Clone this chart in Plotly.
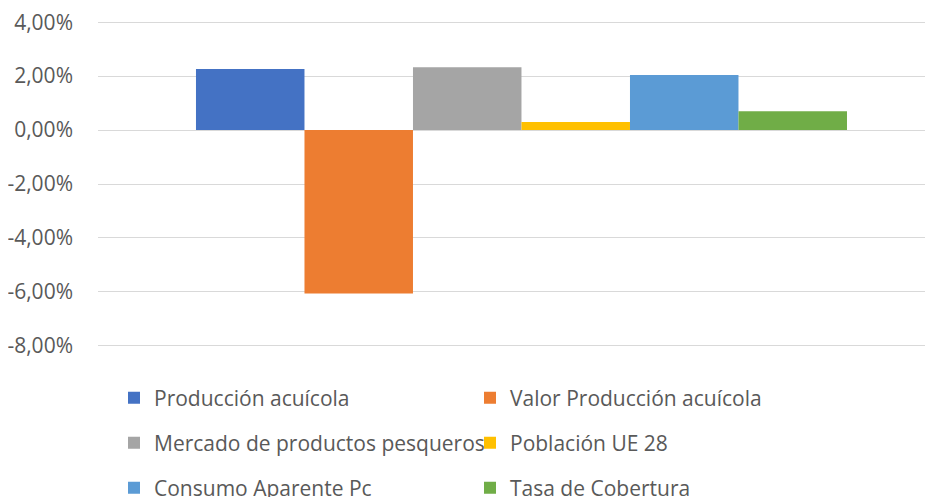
import plotly.graph_objects as go

series = ["Producción acuícola", "Valor Producción acuícola",
          "Mercado de productos pesqueros", "Población UE 28",
          "Consumo Aparente Pc", "Tasa de Cobertura"]
values = [0.0226, -0.0606, 0.0233, 0.0030, 0.0204, 0.0070]
colors = ["#4472C4", "#ED7D31", "#A5A5A5", "#FFC000", "#5B9BD5", "#70AD47"]
tick_vals = [0.04, 0.02, 0.0, -0.02, -0.04, -0.06, -0.08]
tick_text = ["4,00%", "2,00%", "0,00%", "-2,00%", "-4,00%", "-6,00%", "-8,00%"]
legend_ids = ["legend", "legend", "legend2", "legend2", "legend3", "legend3"]

# page body has a default 8px margin, so the figure is 8px smaller each way
W, H = 925, 489

fig = go.Figure()
for name, v, c, lg in zip(series, values, colors, legend_ids):
    fig.add_trace(go.Bar(x=[0], y=[v], name=name, marker_color=c,
                         marker_line_width=0, legend=lg))

FONT = "Open Sans"
legend_common = dict(orientation="h", xanchor="left", yanchor="middle",
                     xref="container", yref="container",
                     font=dict(family=FONT, size=21, color="#595959"),
                     entrywidth=311, entrywidthmode="pixels",
                     bgcolor="rgba(0,0,0,0)", traceorder="normal")

fig.update_layout(
    width=W, height=H,
    margin=dict(l=90, r=0, t=12, b=149, autoexpand=False),
    paper_bgcolor="white", plot_bgcolor="white",
    barmode="group", bargap=0.2, bargroupgap=0,
    showlegend=True,
    xaxis=dict(range=[-0.5204, 0.5057], showticklabels=False, showgrid=False,
               zeroline=False, showline=False, fixedrange=True),
    yaxis=dict(range=[-0.0808, 0.0408], tickvals=tick_vals, ticktext=tick_text,
               showgrid=True, gridcolor="#D9D9D9", gridwidth=1,
               zeroline=True, zerolinecolor="#D9D9D9", zerolinewidth=1,
               showline=False, ticks="", ticklabelstandoff=24,
               ticklabeloverflow="allow",
               tickfont=dict(family=FONT, size=21, color="#595959")),
    legend=dict(x=106 / W, y=1 - 390 / H, **legend_common),
    legend2=dict(x=106 / W, y=1 - 435 / H, **legend_common),
    legend3=dict(x=106 / W, y=1 - 480 / H, **legend_common),
)

fig.write_html("out.html")
